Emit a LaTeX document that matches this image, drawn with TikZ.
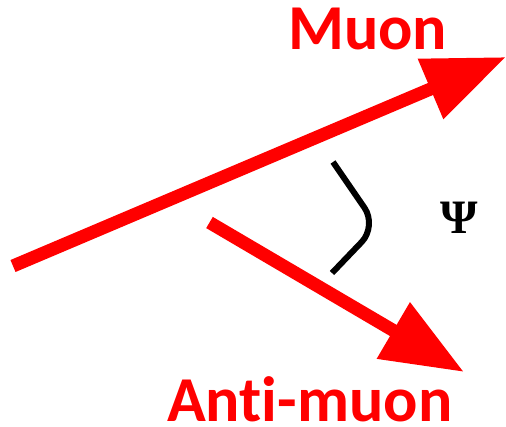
\documentclass[tikz,border=0pt]{standalone}
\usepackage{fontspec}
\setmainfont[Ligatures={NoCommon,NoRare}]{Carlito}
\newfontfamily\psifont{Liberation Serif}
\usetikzlibrary{arrows.meta}
\definecolor{arrowred}{RGB}{255,0,0}
\tikzset{
  track/.style={draw=arrowred, line width=13pt, line cap=butt,
    -{Triangle[length=82pt,width=62pt]}},
  label/.style={text=arrowred, font=\bfseries\fontsize{64}{66}\selectfont, inner sep=0pt},
  bracket/.style={draw=black, line width=6pt, rounded corners=22pt},
}
\begin{document}
\begin{tikzpicture}[x=1pt,y=-1pt]
\useasboundingbox (0,0) rectangle (506,426);
\fill[white] (0,0) rectangle (506,426);
\coordinate (mustart) at (13,266);
\coordinate (mutip) at (506,57);
\coordinate (amstart) at (209.5,222.5);
\coordinate (amtip) at (464,372);
\draw[track] (mustart) -- (mutip);
\draw[track] (amstart) -- (amtip);
\coordinate (b1) at (333,162);
\coordinate (b2) at (377,226);
\coordinate (b3) at (332,273);
\draw[bracket] (b1) -- (b2) -- (b3);
\node[label, anchor=base west] (muon) at (288,49) {Muon};
\node[label, anchor=base west] (anti) at (167,421) {Anti-muon};
\node[inner sep=0pt, font=\psifont\bfseries\fontsize{48}{50}\selectfont] (psi) at (459,218) {Ψ};
\end{tikzpicture}
\end{document}
